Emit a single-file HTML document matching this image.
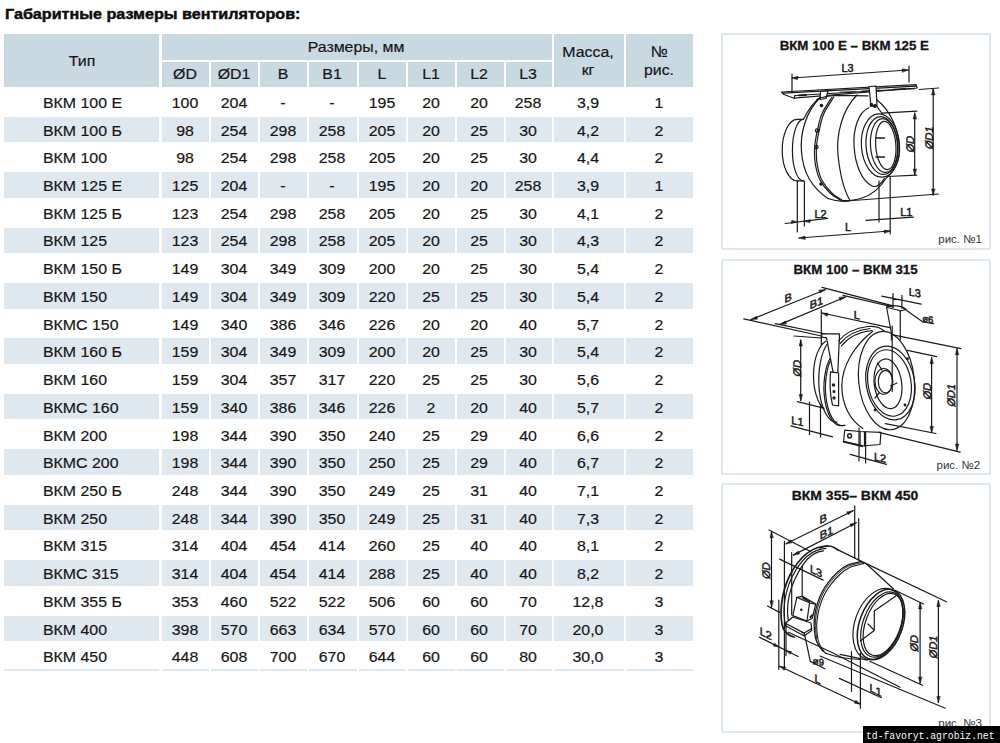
<!DOCTYPE html>
<html><head><meta charset="utf-8">
<style>
html,body{margin:0;padding:0;background:#fff;width:1000px;height:743px;overflow:hidden;position:relative}
body{font-family:"Liberation Sans",sans-serif;color:#111}
.r{position:absolute}
.t,.tl{position:absolute;font-size:15.5px;line-height:0;white-space:nowrap;color:#161616}
.t{width:120px;text-align:center;transform:scaleX(1.025)}
.tl{transform:scaleX(1.025);transform-origin:0 0}
.t,.tl{-webkit-text-stroke:0.2px #161616}
.title{position:absolute;left:4.5px;top:14px;font-size:15px;font-weight:bold;line-height:0;white-space:nowrap;color:#0d0d0d;transform:scaleX(1.075);transform-origin:0 0;-webkit-text-stroke:0.45px #0d0d0d}
.panel{position:absolute;border:2px solid #dfe8f0;box-sizing:border-box}
.ptitle{position:absolute;font-weight:bold;font-size:13.3px;line-height:0;white-space:nowrap;text-align:center;color:#141414;-webkit-text-stroke:0.3px #141414}
.ris{position:absolute;font-size:11.5px;line-height:0;white-space:nowrap;color:#333}
.wm{position:absolute;left:863px;top:726.4px;width:137px;height:17px;background:#000;color:#fff;font-family:"Liberation Mono",monospace;font-size:11px;line-height:17px;white-space:nowrap}
.wm span{position:absolute;left:3.2px;top:1.6px;transform:scaleX(0.885);transform-origin:0 0}
svg{position:absolute;left:0;top:0}
</style></head><body>
<div class="title">Габаритные размеры вентиляторов:</div>
<div class="r" style="left:4px;top:33.5px;width:155.20px;height:53.50px;background:#c9d9e2"></div>
<div class="r" style="left:161.5px;top:33.5px;width:390.50px;height:26.00px;background:#c9d9e2"></div>
<div class="r" style="left:161.5px;top:61.7px;width:47.50px;height:25.30px;background:#c9d9e2"></div>
<div class="r" style="left:211px;top:61.7px;width:47.00px;height:25.30px;background:#c9d9e2"></div>
<div class="r" style="left:260px;top:61.7px;width:47.00px;height:25.30px;background:#c9d9e2"></div>
<div class="r" style="left:309px;top:61.7px;width:48.00px;height:25.30px;background:#c9d9e2"></div>
<div class="r" style="left:359px;top:61.7px;width:47.00px;height:25.30px;background:#c9d9e2"></div>
<div class="r" style="left:408px;top:61.7px;width:47.00px;height:25.30px;background:#c9d9e2"></div>
<div class="r" style="left:457px;top:61.7px;width:46.60px;height:25.30px;background:#c9d9e2"></div>
<div class="r" style="left:505.6px;top:61.7px;width:46.40px;height:25.30px;background:#c9d9e2"></div>
<div class="r" style="left:554.4px;top:33.5px;width:69.60px;height:53.50px;background:#c9d9e2"></div>
<div class="r" style="left:626px;top:33.5px;width:67.30px;height:53.50px;background:#c9d9e2"></div>
<div class="t" style="left:21.70px;top:61.13px">Тип</div>
<div class="t" style="left:295.50px;top:47.43px">Размеры, мм</div>
<div class="t" style="left:125.45px;top:74.13px">ØD</div>
<div class="t" style="left:173.50px;top:74.13px">ØD1</div>
<div class="t" style="left:222.50px;top:74.13px">B</div>
<div class="t" style="left:272.00px;top:74.13px">B1</div>
<div class="t" style="left:321.50px;top:74.13px">L</div>
<div class="t" style="left:370.50px;top:74.13px">L1</div>
<div class="t" style="left:419.30px;top:74.13px">L2</div>
<div class="t" style="left:467.80px;top:74.13px">L3</div>
<div class="t" style="left:528.20px;top:52.13px">Масса,</div>
<div class="t" style="left:528.20px;top:70.23px">кг</div>
<div class="t" style="left:598.65px;top:52.13px">№</div>
<div class="t" style="left:598.65px;top:70.23px">рис.</div>
<div class="tl" style="left:42.9px;top:102.88px">ВКМ 100 Е</div>
<div class="t" style="left:125.45px;top:102.88px">100</div>
<div class="t" style="left:173.50px;top:102.88px">204</div>
<div class="t" style="left:222.50px;top:102.88px">-</div>
<div class="t" style="left:272.00px;top:102.88px">-</div>
<div class="t" style="left:321.50px;top:102.88px">195</div>
<div class="t" style="left:370.50px;top:102.88px">20</div>
<div class="t" style="left:419.30px;top:102.88px">20</div>
<div class="t" style="left:467.80px;top:102.88px">258</div>
<div class="t" style="left:528.20px;top:102.88px">3,9</div>
<div class="t" style="left:598.65px;top:102.88px">1</div>
<div class="r" style="left:4px;top:116.7px;width:155.20px;height:25.60px;background:#e0e8ef"></div>
<div class="r" style="left:161.5px;top:116.7px;width:47.50px;height:25.60px;background:#e0e8ef"></div>
<div class="r" style="left:211px;top:116.7px;width:47.00px;height:25.60px;background:#e0e8ef"></div>
<div class="r" style="left:260px;top:116.7px;width:47.00px;height:25.60px;background:#e0e8ef"></div>
<div class="r" style="left:309px;top:116.7px;width:48.00px;height:25.60px;background:#e0e8ef"></div>
<div class="r" style="left:359px;top:116.7px;width:47.00px;height:25.60px;background:#e0e8ef"></div>
<div class="r" style="left:408px;top:116.7px;width:47.00px;height:25.60px;background:#e0e8ef"></div>
<div class="r" style="left:457px;top:116.7px;width:46.60px;height:25.60px;background:#e0e8ef"></div>
<div class="r" style="left:505.6px;top:116.7px;width:46.40px;height:25.60px;background:#e0e8ef"></div>
<div class="r" style="left:554.4px;top:116.7px;width:69.60px;height:25.60px;background:#e0e8ef"></div>
<div class="r" style="left:626px;top:116.7px;width:67.30px;height:25.60px;background:#e0e8ef"></div>
<div class="tl" style="left:42.9px;top:130.60px">ВКМ 100 Б</div>
<div class="t" style="left:125.45px;top:130.60px">98</div>
<div class="t" style="left:173.50px;top:130.60px">254</div>
<div class="t" style="left:222.50px;top:130.60px">298</div>
<div class="t" style="left:272.00px;top:130.60px">258</div>
<div class="t" style="left:321.50px;top:130.60px">205</div>
<div class="t" style="left:370.50px;top:130.60px">20</div>
<div class="t" style="left:419.30px;top:130.60px">25</div>
<div class="t" style="left:467.80px;top:130.60px">30</div>
<div class="t" style="left:528.20px;top:130.60px">4,2</div>
<div class="t" style="left:598.65px;top:130.60px">2</div>
<div class="tl" style="left:42.9px;top:158.32px">ВКМ 100</div>
<div class="t" style="left:125.45px;top:158.32px">98</div>
<div class="t" style="left:173.50px;top:158.32px">254</div>
<div class="t" style="left:222.50px;top:158.32px">298</div>
<div class="t" style="left:272.00px;top:158.32px">258</div>
<div class="t" style="left:321.50px;top:158.32px">205</div>
<div class="t" style="left:370.50px;top:158.32px">20</div>
<div class="t" style="left:419.30px;top:158.32px">25</div>
<div class="t" style="left:467.80px;top:158.32px">30</div>
<div class="t" style="left:528.20px;top:158.32px">4,4</div>
<div class="t" style="left:598.65px;top:158.32px">2</div>
<div class="r" style="left:4px;top:172.14px;width:155.20px;height:25.60px;background:#e0e8ef"></div>
<div class="r" style="left:161.5px;top:172.14px;width:47.50px;height:25.60px;background:#e0e8ef"></div>
<div class="r" style="left:211px;top:172.14px;width:47.00px;height:25.60px;background:#e0e8ef"></div>
<div class="r" style="left:260px;top:172.14px;width:47.00px;height:25.60px;background:#e0e8ef"></div>
<div class="r" style="left:309px;top:172.14px;width:48.00px;height:25.60px;background:#e0e8ef"></div>
<div class="r" style="left:359px;top:172.14px;width:47.00px;height:25.60px;background:#e0e8ef"></div>
<div class="r" style="left:408px;top:172.14px;width:47.00px;height:25.60px;background:#e0e8ef"></div>
<div class="r" style="left:457px;top:172.14px;width:46.60px;height:25.60px;background:#e0e8ef"></div>
<div class="r" style="left:505.6px;top:172.14px;width:46.40px;height:25.60px;background:#e0e8ef"></div>
<div class="r" style="left:554.4px;top:172.14px;width:69.60px;height:25.60px;background:#e0e8ef"></div>
<div class="r" style="left:626px;top:172.14px;width:67.30px;height:25.60px;background:#e0e8ef"></div>
<div class="tl" style="left:42.9px;top:186.04px">ВКМ 125 Е</div>
<div class="t" style="left:125.45px;top:186.04px">125</div>
<div class="t" style="left:173.50px;top:186.04px">204</div>
<div class="t" style="left:222.50px;top:186.04px">-</div>
<div class="t" style="left:272.00px;top:186.04px">-</div>
<div class="t" style="left:321.50px;top:186.04px">195</div>
<div class="t" style="left:370.50px;top:186.04px">20</div>
<div class="t" style="left:419.30px;top:186.04px">20</div>
<div class="t" style="left:467.80px;top:186.04px">258</div>
<div class="t" style="left:528.20px;top:186.04px">3,9</div>
<div class="t" style="left:598.65px;top:186.04px">1</div>
<div class="tl" style="left:42.9px;top:213.76px">ВКМ 125 Б</div>
<div class="t" style="left:125.45px;top:213.76px">123</div>
<div class="t" style="left:173.50px;top:213.76px">254</div>
<div class="t" style="left:222.50px;top:213.76px">298</div>
<div class="t" style="left:272.00px;top:213.76px">258</div>
<div class="t" style="left:321.50px;top:213.76px">205</div>
<div class="t" style="left:370.50px;top:213.76px">20</div>
<div class="t" style="left:419.30px;top:213.76px">25</div>
<div class="t" style="left:467.80px;top:213.76px">30</div>
<div class="t" style="left:528.20px;top:213.76px">4,1</div>
<div class="t" style="left:598.65px;top:213.76px">2</div>
<div class="r" style="left:4px;top:227.57999999999998px;width:155.20px;height:25.60px;background:#e0e8ef"></div>
<div class="r" style="left:161.5px;top:227.57999999999998px;width:47.50px;height:25.60px;background:#e0e8ef"></div>
<div class="r" style="left:211px;top:227.57999999999998px;width:47.00px;height:25.60px;background:#e0e8ef"></div>
<div class="r" style="left:260px;top:227.57999999999998px;width:47.00px;height:25.60px;background:#e0e8ef"></div>
<div class="r" style="left:309px;top:227.57999999999998px;width:48.00px;height:25.60px;background:#e0e8ef"></div>
<div class="r" style="left:359px;top:227.57999999999998px;width:47.00px;height:25.60px;background:#e0e8ef"></div>
<div class="r" style="left:408px;top:227.57999999999998px;width:47.00px;height:25.60px;background:#e0e8ef"></div>
<div class="r" style="left:457px;top:227.57999999999998px;width:46.60px;height:25.60px;background:#e0e8ef"></div>
<div class="r" style="left:505.6px;top:227.57999999999998px;width:46.40px;height:25.60px;background:#e0e8ef"></div>
<div class="r" style="left:554.4px;top:227.57999999999998px;width:69.60px;height:25.60px;background:#e0e8ef"></div>
<div class="r" style="left:626px;top:227.57999999999998px;width:67.30px;height:25.60px;background:#e0e8ef"></div>
<div class="tl" style="left:42.9px;top:241.48px">ВКМ 125</div>
<div class="t" style="left:125.45px;top:241.48px">123</div>
<div class="t" style="left:173.50px;top:241.48px">254</div>
<div class="t" style="left:222.50px;top:241.48px">298</div>
<div class="t" style="left:272.00px;top:241.48px">258</div>
<div class="t" style="left:321.50px;top:241.48px">205</div>
<div class="t" style="left:370.50px;top:241.48px">20</div>
<div class="t" style="left:419.30px;top:241.48px">25</div>
<div class="t" style="left:467.80px;top:241.48px">30</div>
<div class="t" style="left:528.20px;top:241.48px">4,3</div>
<div class="t" style="left:598.65px;top:241.48px">2</div>
<div class="tl" style="left:42.9px;top:269.20px">ВКМ 150 Б</div>
<div class="t" style="left:125.45px;top:269.20px">149</div>
<div class="t" style="left:173.50px;top:269.20px">304</div>
<div class="t" style="left:222.50px;top:269.20px">349</div>
<div class="t" style="left:272.00px;top:269.20px">309</div>
<div class="t" style="left:321.50px;top:269.20px">200</div>
<div class="t" style="left:370.50px;top:269.20px">20</div>
<div class="t" style="left:419.30px;top:269.20px">25</div>
<div class="t" style="left:467.80px;top:269.20px">30</div>
<div class="t" style="left:528.20px;top:269.20px">5,4</div>
<div class="t" style="left:598.65px;top:269.20px">2</div>
<div class="r" style="left:4px;top:283.02px;width:155.20px;height:25.60px;background:#e0e8ef"></div>
<div class="r" style="left:161.5px;top:283.02px;width:47.50px;height:25.60px;background:#e0e8ef"></div>
<div class="r" style="left:211px;top:283.02px;width:47.00px;height:25.60px;background:#e0e8ef"></div>
<div class="r" style="left:260px;top:283.02px;width:47.00px;height:25.60px;background:#e0e8ef"></div>
<div class="r" style="left:309px;top:283.02px;width:48.00px;height:25.60px;background:#e0e8ef"></div>
<div class="r" style="left:359px;top:283.02px;width:47.00px;height:25.60px;background:#e0e8ef"></div>
<div class="r" style="left:408px;top:283.02px;width:47.00px;height:25.60px;background:#e0e8ef"></div>
<div class="r" style="left:457px;top:283.02px;width:46.60px;height:25.60px;background:#e0e8ef"></div>
<div class="r" style="left:505.6px;top:283.02px;width:46.40px;height:25.60px;background:#e0e8ef"></div>
<div class="r" style="left:554.4px;top:283.02px;width:69.60px;height:25.60px;background:#e0e8ef"></div>
<div class="r" style="left:626px;top:283.02px;width:67.30px;height:25.60px;background:#e0e8ef"></div>
<div class="tl" style="left:42.9px;top:296.92px">ВКМ 150</div>
<div class="t" style="left:125.45px;top:296.92px">149</div>
<div class="t" style="left:173.50px;top:296.92px">304</div>
<div class="t" style="left:222.50px;top:296.92px">349</div>
<div class="t" style="left:272.00px;top:296.92px">309</div>
<div class="t" style="left:321.50px;top:296.92px">220</div>
<div class="t" style="left:370.50px;top:296.92px">25</div>
<div class="t" style="left:419.30px;top:296.92px">25</div>
<div class="t" style="left:467.80px;top:296.92px">30</div>
<div class="t" style="left:528.20px;top:296.92px">5,4</div>
<div class="t" style="left:598.65px;top:296.92px">2</div>
<div class="tl" style="left:42.9px;top:324.64px">ВКМС 150</div>
<div class="t" style="left:125.45px;top:324.64px">149</div>
<div class="t" style="left:173.50px;top:324.64px">340</div>
<div class="t" style="left:222.50px;top:324.64px">386</div>
<div class="t" style="left:272.00px;top:324.64px">346</div>
<div class="t" style="left:321.50px;top:324.64px">226</div>
<div class="t" style="left:370.50px;top:324.64px">20</div>
<div class="t" style="left:419.30px;top:324.64px">20</div>
<div class="t" style="left:467.80px;top:324.64px">40</div>
<div class="t" style="left:528.20px;top:324.64px">5,7</div>
<div class="t" style="left:598.65px;top:324.64px">2</div>
<div class="r" style="left:4px;top:338.46px;width:155.20px;height:25.60px;background:#e0e8ef"></div>
<div class="r" style="left:161.5px;top:338.46px;width:47.50px;height:25.60px;background:#e0e8ef"></div>
<div class="r" style="left:211px;top:338.46px;width:47.00px;height:25.60px;background:#e0e8ef"></div>
<div class="r" style="left:260px;top:338.46px;width:47.00px;height:25.60px;background:#e0e8ef"></div>
<div class="r" style="left:309px;top:338.46px;width:48.00px;height:25.60px;background:#e0e8ef"></div>
<div class="r" style="left:359px;top:338.46px;width:47.00px;height:25.60px;background:#e0e8ef"></div>
<div class="r" style="left:408px;top:338.46px;width:47.00px;height:25.60px;background:#e0e8ef"></div>
<div class="r" style="left:457px;top:338.46px;width:46.60px;height:25.60px;background:#e0e8ef"></div>
<div class="r" style="left:505.6px;top:338.46px;width:46.40px;height:25.60px;background:#e0e8ef"></div>
<div class="r" style="left:554.4px;top:338.46px;width:69.60px;height:25.60px;background:#e0e8ef"></div>
<div class="r" style="left:626px;top:338.46px;width:67.30px;height:25.60px;background:#e0e8ef"></div>
<div class="tl" style="left:42.9px;top:352.36px">ВКМ 160 Б</div>
<div class="t" style="left:125.45px;top:352.36px">159</div>
<div class="t" style="left:173.50px;top:352.36px">304</div>
<div class="t" style="left:222.50px;top:352.36px">349</div>
<div class="t" style="left:272.00px;top:352.36px">309</div>
<div class="t" style="left:321.50px;top:352.36px">200</div>
<div class="t" style="left:370.50px;top:352.36px">20</div>
<div class="t" style="left:419.30px;top:352.36px">25</div>
<div class="t" style="left:467.80px;top:352.36px">30</div>
<div class="t" style="left:528.20px;top:352.36px">5,4</div>
<div class="t" style="left:598.65px;top:352.36px">2</div>
<div class="tl" style="left:42.9px;top:380.08px">ВКМ 160</div>
<div class="t" style="left:125.45px;top:380.08px">159</div>
<div class="t" style="left:173.50px;top:380.08px">304</div>
<div class="t" style="left:222.50px;top:380.08px">357</div>
<div class="t" style="left:272.00px;top:380.08px">317</div>
<div class="t" style="left:321.50px;top:380.08px">220</div>
<div class="t" style="left:370.50px;top:380.08px">25</div>
<div class="t" style="left:419.30px;top:380.08px">25</div>
<div class="t" style="left:467.80px;top:380.08px">30</div>
<div class="t" style="left:528.20px;top:380.08px">5,6</div>
<div class="t" style="left:598.65px;top:380.08px">2</div>
<div class="r" style="left:4px;top:393.9px;width:155.20px;height:25.60px;background:#e0e8ef"></div>
<div class="r" style="left:161.5px;top:393.9px;width:47.50px;height:25.60px;background:#e0e8ef"></div>
<div class="r" style="left:211px;top:393.9px;width:47.00px;height:25.60px;background:#e0e8ef"></div>
<div class="r" style="left:260px;top:393.9px;width:47.00px;height:25.60px;background:#e0e8ef"></div>
<div class="r" style="left:309px;top:393.9px;width:48.00px;height:25.60px;background:#e0e8ef"></div>
<div class="r" style="left:359px;top:393.9px;width:47.00px;height:25.60px;background:#e0e8ef"></div>
<div class="r" style="left:408px;top:393.9px;width:47.00px;height:25.60px;background:#e0e8ef"></div>
<div class="r" style="left:457px;top:393.9px;width:46.60px;height:25.60px;background:#e0e8ef"></div>
<div class="r" style="left:505.6px;top:393.9px;width:46.40px;height:25.60px;background:#e0e8ef"></div>
<div class="r" style="left:554.4px;top:393.9px;width:69.60px;height:25.60px;background:#e0e8ef"></div>
<div class="r" style="left:626px;top:393.9px;width:67.30px;height:25.60px;background:#e0e8ef"></div>
<div class="tl" style="left:42.9px;top:407.80px">ВКМС 160</div>
<div class="t" style="left:125.45px;top:407.80px">159</div>
<div class="t" style="left:173.50px;top:407.80px">340</div>
<div class="t" style="left:222.50px;top:407.80px">386</div>
<div class="t" style="left:272.00px;top:407.80px">346</div>
<div class="t" style="left:321.50px;top:407.80px">226</div>
<div class="t" style="left:370.50px;top:407.80px">2</div>
<div class="t" style="left:419.30px;top:407.80px">20</div>
<div class="t" style="left:467.80px;top:407.80px">40</div>
<div class="t" style="left:528.20px;top:407.80px">5,7</div>
<div class="t" style="left:598.65px;top:407.80px">2</div>
<div class="tl" style="left:42.9px;top:435.52px">ВКМ 200</div>
<div class="t" style="left:125.45px;top:435.52px">198</div>
<div class="t" style="left:173.50px;top:435.52px">344</div>
<div class="t" style="left:222.50px;top:435.52px">390</div>
<div class="t" style="left:272.00px;top:435.52px">350</div>
<div class="t" style="left:321.50px;top:435.52px">240</div>
<div class="t" style="left:370.50px;top:435.52px">25</div>
<div class="t" style="left:419.30px;top:435.52px">29</div>
<div class="t" style="left:467.80px;top:435.52px">40</div>
<div class="t" style="left:528.20px;top:435.52px">6,6</div>
<div class="t" style="left:598.65px;top:435.52px">2</div>
<div class="r" style="left:4px;top:449.34000000000003px;width:155.20px;height:25.60px;background:#e0e8ef"></div>
<div class="r" style="left:161.5px;top:449.34000000000003px;width:47.50px;height:25.60px;background:#e0e8ef"></div>
<div class="r" style="left:211px;top:449.34000000000003px;width:47.00px;height:25.60px;background:#e0e8ef"></div>
<div class="r" style="left:260px;top:449.34000000000003px;width:47.00px;height:25.60px;background:#e0e8ef"></div>
<div class="r" style="left:309px;top:449.34000000000003px;width:48.00px;height:25.60px;background:#e0e8ef"></div>
<div class="r" style="left:359px;top:449.34000000000003px;width:47.00px;height:25.60px;background:#e0e8ef"></div>
<div class="r" style="left:408px;top:449.34000000000003px;width:47.00px;height:25.60px;background:#e0e8ef"></div>
<div class="r" style="left:457px;top:449.34000000000003px;width:46.60px;height:25.60px;background:#e0e8ef"></div>
<div class="r" style="left:505.6px;top:449.34000000000003px;width:46.40px;height:25.60px;background:#e0e8ef"></div>
<div class="r" style="left:554.4px;top:449.34000000000003px;width:69.60px;height:25.60px;background:#e0e8ef"></div>
<div class="r" style="left:626px;top:449.34000000000003px;width:67.30px;height:25.60px;background:#e0e8ef"></div>
<div class="tl" style="left:42.9px;top:463.24px">ВКМС 200</div>
<div class="t" style="left:125.45px;top:463.24px">198</div>
<div class="t" style="left:173.50px;top:463.24px">344</div>
<div class="t" style="left:222.50px;top:463.24px">390</div>
<div class="t" style="left:272.00px;top:463.24px">350</div>
<div class="t" style="left:321.50px;top:463.24px">250</div>
<div class="t" style="left:370.50px;top:463.24px">25</div>
<div class="t" style="left:419.30px;top:463.24px">29</div>
<div class="t" style="left:467.80px;top:463.24px">40</div>
<div class="t" style="left:528.20px;top:463.24px">6,7</div>
<div class="t" style="left:598.65px;top:463.24px">2</div>
<div class="tl" style="left:42.9px;top:490.96px">ВКМ 250 Б</div>
<div class="t" style="left:125.45px;top:490.96px">248</div>
<div class="t" style="left:173.50px;top:490.96px">344</div>
<div class="t" style="left:222.50px;top:490.96px">390</div>
<div class="t" style="left:272.00px;top:490.96px">350</div>
<div class="t" style="left:321.50px;top:490.96px">249</div>
<div class="t" style="left:370.50px;top:490.96px">25</div>
<div class="t" style="left:419.30px;top:490.96px">31</div>
<div class="t" style="left:467.80px;top:490.96px">40</div>
<div class="t" style="left:528.20px;top:490.96px">7,1</div>
<div class="t" style="left:598.65px;top:490.96px">2</div>
<div class="r" style="left:4px;top:504.78px;width:155.20px;height:25.60px;background:#e0e8ef"></div>
<div class="r" style="left:161.5px;top:504.78px;width:47.50px;height:25.60px;background:#e0e8ef"></div>
<div class="r" style="left:211px;top:504.78px;width:47.00px;height:25.60px;background:#e0e8ef"></div>
<div class="r" style="left:260px;top:504.78px;width:47.00px;height:25.60px;background:#e0e8ef"></div>
<div class="r" style="left:309px;top:504.78px;width:48.00px;height:25.60px;background:#e0e8ef"></div>
<div class="r" style="left:359px;top:504.78px;width:47.00px;height:25.60px;background:#e0e8ef"></div>
<div class="r" style="left:408px;top:504.78px;width:47.00px;height:25.60px;background:#e0e8ef"></div>
<div class="r" style="left:457px;top:504.78px;width:46.60px;height:25.60px;background:#e0e8ef"></div>
<div class="r" style="left:505.6px;top:504.78px;width:46.40px;height:25.60px;background:#e0e8ef"></div>
<div class="r" style="left:554.4px;top:504.78px;width:69.60px;height:25.60px;background:#e0e8ef"></div>
<div class="r" style="left:626px;top:504.78px;width:67.30px;height:25.60px;background:#e0e8ef"></div>
<div class="tl" style="left:42.9px;top:518.68px">ВКМ 250</div>
<div class="t" style="left:125.45px;top:518.68px">248</div>
<div class="t" style="left:173.50px;top:518.68px">344</div>
<div class="t" style="left:222.50px;top:518.68px">390</div>
<div class="t" style="left:272.00px;top:518.68px">350</div>
<div class="t" style="left:321.50px;top:518.68px">249</div>
<div class="t" style="left:370.50px;top:518.68px">25</div>
<div class="t" style="left:419.30px;top:518.68px">31</div>
<div class="t" style="left:467.80px;top:518.68px">40</div>
<div class="t" style="left:528.20px;top:518.68px">7,3</div>
<div class="t" style="left:598.65px;top:518.68px">2</div>
<div class="tl" style="left:42.9px;top:546.40px">ВКМ 315</div>
<div class="t" style="left:125.45px;top:546.40px">314</div>
<div class="t" style="left:173.50px;top:546.40px">404</div>
<div class="t" style="left:222.50px;top:546.40px">454</div>
<div class="t" style="left:272.00px;top:546.40px">414</div>
<div class="t" style="left:321.50px;top:546.40px">260</div>
<div class="t" style="left:370.50px;top:546.40px">25</div>
<div class="t" style="left:419.30px;top:546.40px">40</div>
<div class="t" style="left:467.80px;top:546.40px">40</div>
<div class="t" style="left:528.20px;top:546.40px">8,1</div>
<div class="t" style="left:598.65px;top:546.40px">2</div>
<div class="r" style="left:4px;top:560.22px;width:155.20px;height:25.60px;background:#e0e8ef"></div>
<div class="r" style="left:161.5px;top:560.22px;width:47.50px;height:25.60px;background:#e0e8ef"></div>
<div class="r" style="left:211px;top:560.22px;width:47.00px;height:25.60px;background:#e0e8ef"></div>
<div class="r" style="left:260px;top:560.22px;width:47.00px;height:25.60px;background:#e0e8ef"></div>
<div class="r" style="left:309px;top:560.22px;width:48.00px;height:25.60px;background:#e0e8ef"></div>
<div class="r" style="left:359px;top:560.22px;width:47.00px;height:25.60px;background:#e0e8ef"></div>
<div class="r" style="left:408px;top:560.22px;width:47.00px;height:25.60px;background:#e0e8ef"></div>
<div class="r" style="left:457px;top:560.22px;width:46.60px;height:25.60px;background:#e0e8ef"></div>
<div class="r" style="left:505.6px;top:560.22px;width:46.40px;height:25.60px;background:#e0e8ef"></div>
<div class="r" style="left:554.4px;top:560.22px;width:69.60px;height:25.60px;background:#e0e8ef"></div>
<div class="r" style="left:626px;top:560.22px;width:67.30px;height:25.60px;background:#e0e8ef"></div>
<div class="tl" style="left:42.9px;top:574.12px">ВКМС 315</div>
<div class="t" style="left:125.45px;top:574.12px">314</div>
<div class="t" style="left:173.50px;top:574.12px">404</div>
<div class="t" style="left:222.50px;top:574.12px">454</div>
<div class="t" style="left:272.00px;top:574.12px">414</div>
<div class="t" style="left:321.50px;top:574.12px">288</div>
<div class="t" style="left:370.50px;top:574.12px">25</div>
<div class="t" style="left:419.30px;top:574.12px">40</div>
<div class="t" style="left:467.80px;top:574.12px">40</div>
<div class="t" style="left:528.20px;top:574.12px">8,2</div>
<div class="t" style="left:598.65px;top:574.12px">2</div>
<div class="tl" style="left:42.9px;top:601.84px">ВКМ 355 Б</div>
<div class="t" style="left:125.45px;top:601.84px">353</div>
<div class="t" style="left:173.50px;top:601.84px">460</div>
<div class="t" style="left:222.50px;top:601.84px">522</div>
<div class="t" style="left:272.00px;top:601.84px">522</div>
<div class="t" style="left:321.50px;top:601.84px">506</div>
<div class="t" style="left:370.50px;top:601.84px">60</div>
<div class="t" style="left:419.30px;top:601.84px">60</div>
<div class="t" style="left:467.80px;top:601.84px">70</div>
<div class="t" style="left:528.20px;top:601.84px">12,8</div>
<div class="t" style="left:598.65px;top:601.84px">3</div>
<div class="r" style="left:4px;top:615.66px;width:155.20px;height:25.60px;background:#e0e8ef"></div>
<div class="r" style="left:161.5px;top:615.66px;width:47.50px;height:25.60px;background:#e0e8ef"></div>
<div class="r" style="left:211px;top:615.66px;width:47.00px;height:25.60px;background:#e0e8ef"></div>
<div class="r" style="left:260px;top:615.66px;width:47.00px;height:25.60px;background:#e0e8ef"></div>
<div class="r" style="left:309px;top:615.66px;width:48.00px;height:25.60px;background:#e0e8ef"></div>
<div class="r" style="left:359px;top:615.66px;width:47.00px;height:25.60px;background:#e0e8ef"></div>
<div class="r" style="left:408px;top:615.66px;width:47.00px;height:25.60px;background:#e0e8ef"></div>
<div class="r" style="left:457px;top:615.66px;width:46.60px;height:25.60px;background:#e0e8ef"></div>
<div class="r" style="left:505.6px;top:615.66px;width:46.40px;height:25.60px;background:#e0e8ef"></div>
<div class="r" style="left:554.4px;top:615.66px;width:69.60px;height:25.60px;background:#e0e8ef"></div>
<div class="r" style="left:626px;top:615.66px;width:67.30px;height:25.60px;background:#e0e8ef"></div>
<div class="tl" style="left:42.9px;top:629.56px">ВКМ 400</div>
<div class="t" style="left:125.45px;top:629.56px">398</div>
<div class="t" style="left:173.50px;top:629.56px">570</div>
<div class="t" style="left:222.50px;top:629.56px">663</div>
<div class="t" style="left:272.00px;top:629.56px">634</div>
<div class="t" style="left:321.50px;top:629.56px">570</div>
<div class="t" style="left:370.50px;top:629.56px">60</div>
<div class="t" style="left:419.30px;top:629.56px">60</div>
<div class="t" style="left:467.80px;top:629.56px">70</div>
<div class="t" style="left:528.20px;top:629.56px">20,0</div>
<div class="t" style="left:598.65px;top:629.56px">3</div>
<div class="tl" style="left:42.9px;top:657.28px">ВКМ 450</div>
<div class="t" style="left:125.45px;top:657.28px">448</div>
<div class="t" style="left:173.50px;top:657.28px">608</div>
<div class="t" style="left:222.50px;top:657.28px">700</div>
<div class="t" style="left:272.00px;top:657.28px">670</div>
<div class="t" style="left:321.50px;top:657.28px">644</div>
<div class="t" style="left:370.50px;top:657.28px">60</div>
<div class="t" style="left:419.30px;top:657.28px">60</div>
<div class="t" style="left:467.80px;top:657.28px">80</div>
<div class="t" style="left:528.20px;top:657.28px">30,0</div>
<div class="t" style="left:598.65px;top:657.28px">3</div>
<div class="r" style="left:4px;top:669.4px;width:155.20px;height:1.90px;background:#e0e8ef"></div>
<div class="r" style="left:161.5px;top:669.4px;width:47.50px;height:1.90px;background:#e0e8ef"></div>
<div class="r" style="left:211px;top:669.4px;width:47.00px;height:1.90px;background:#e0e8ef"></div>
<div class="r" style="left:260px;top:669.4px;width:47.00px;height:1.90px;background:#e0e8ef"></div>
<div class="r" style="left:309px;top:669.4px;width:48.00px;height:1.90px;background:#e0e8ef"></div>
<div class="r" style="left:359px;top:669.4px;width:47.00px;height:1.90px;background:#e0e8ef"></div>
<div class="r" style="left:408px;top:669.4px;width:47.00px;height:1.90px;background:#e0e8ef"></div>
<div class="r" style="left:457px;top:669.4px;width:46.60px;height:1.90px;background:#e0e8ef"></div>
<div class="r" style="left:505.6px;top:669.4px;width:46.40px;height:1.90px;background:#e0e8ef"></div>
<div class="r" style="left:554.4px;top:669.4px;width:69.60px;height:1.90px;background:#e0e8ef"></div>
<div class="r" style="left:626px;top:669.4px;width:67.30px;height:1.90px;background:#e0e8ef"></div>
<div class="panel" style="left:721px;top:33px;width:270px;height:217px"></div>
<div class="panel" style="left:721px;top:259px;width:270px;height:215.6px"></div>
<div class="panel" style="left:721px;top:483px;width:270px;height:250px"></div>
<div class="ptitle" style="left:754.3px;width:200px;top:46.0px">ВКМ 100 Е – ВКМ 125 Е</div>
<div class="ptitle" style="left:755.6px;width:200px;top:269.5px">ВКМ 100 – ВКМ 315</div>
<div class="ptitle" style="left:754.7px;width:200px;top:496.1px;transform:scaleX(1.05)">ВКМ 355– ВКМ 450</div>
<div class="ris" style="left:938.3px;top:238.9px">рис. №1</div>
<div class="ris" style="left:936.5px;top:464.9px">рис. №2</div>
<div class="ris" style="left:938.3px;top:722.8px">рис. №3</div>
<svg width="1000" height="743" viewBox="0 0 1000 743">
<g fill="none" stroke="#1a1a1a" stroke-width="1.2" stroke-linecap="round" stroke-linejoin="round">
<!-- mounting plate -->
<path d="M781.6,92 L916,84.6 L917.2,88 L794,98.2 L784,94.5 Z" fill="#fff"/>
<path d="M783,93.2 L916.5,86.2"/>
<path d="M795,95.5 L914.5,88.6"/>
<path d="M794,98.2 L795,95.5"/>
<path d="M799,95.4 L806,95" stroke-width="1.8"/>
<path d="M840,92.2 L856,91.3" stroke-width="0.8"/>
<path d="M862,90.9 L880,90" stroke-width="0.8"/>
<path d="M893,89.4 L905,88.8" stroke-width="1.4"/>
<path d="M820.5,91.5 L828,91 L826,98.5 L820,99.5 Z" fill="#fff"/>
<path d="M869,86.5 L876,86 L877,106 L871,106.5 Z" fill="#fff"/>
<circle cx="871.5" cy="105" r="1.3" fill="#1a1a1a"/>
<circle cx="875" cy="106" r="1.3" fill="#1a1a1a"/>
<!-- L3 dim -->
<path d="M792,74 L792,92 M909,66 L909,82 M792,78 L908,70"/>
<path d="M792,78 l6,-1.8 l-0.4,3.2 z M908,70 l-6,-1.2 l0.4,3.2 z" fill="#1a1a1a" stroke-width="0.5"/>
<!-- inlet collar -->
<path d="M797.3,119.4 A15.1,30.75 0 0 0 797.3,180.9"/>
<path d="M803.4,119.4 A11,30.75 0 0 0 803.4,180.9"/>
<path d="M797.3,119.4 L803.4,119.4 M797.3,180.9 L803.4,180.9"/>
<!-- housing left silhouette -->
<path d="M803.4,119.4 C808,110 814,102 820.5,97.2"/>
<path d="M820.5,97.2 C805,112 800,135 801.5,152 C803,172 812,188 828,198.5"/>
<!-- band double arc -->
<path d="M832.0,97.0 C830.4,99.7 824.5,108.3 822.3,113.0 C820.1,117.7 819.7,120.5 818.6,125.0 C817.5,129.5 816.2,135.8 815.5,140.0 C814.8,144.2 814.5,145.8 814.5,150.0 C814.5,154.2 814.6,160.0 815.5,165.0 C816.4,170.0 817.6,175.3 820.0,180.0 C822.4,184.7 826.5,189.6 830.0,193.0 C833.5,196.4 839.2,199.2 841.0,200.5"/>
<path d="M833.8,97.0 C832.2,99.7 826.3,108.3 824.1,113.0 C821.9,117.7 821.5,120.5 820.4,125.0 C819.3,129.5 818.0,135.8 817.3,140.0 C816.6,144.2 816.3,145.8 816.3,150.0 C816.3,154.2 816.4,160.0 817.3,165.0 C818.2,170.0 819.4,175.3 821.8,180.0 C824.2,184.7 828.3,189.6 831.8,193.0 C835.3,196.4 841.0,199.2 842.8,200.5"/>
<circle cx="821.5" cy="105.5" r="1.2" fill="#1a1a1a"/>
<circle cx="817" cy="130.5" r="1.6"/>
<circle cx="816.5" cy="147" r="1.6"/>
<circle cx="821" cy="184" r="1.2" fill="#1a1a1a"/>
<!-- big body arc -->
<path d="M856.9,95 C842,110 836,135 838,155 C840,175 845,192 850,200.5"/>
<!-- top silhouette -->
<path d="M816.8,99.3 C822,97 830,95.5 837,95.3 L868,95.8"/>
<!-- right face silhouette -->
<path d="M877,100 C890,110 898,128 899.5,146 C900.5,160 894,172 886.2,178 C880,188 872,195 862,198 C855,200 848,201 843,200.5"/>
<path d="M828,198.5 C835,201 842,202 849,201"/>
<!-- face ring 1 -->
<path d="M869,107.8 C858,112 853,130 854.1,146 C855,165 862,181 872,186 C877,188 881,184 884.3,178.6"/>
<!-- ring 2 outer ellipse -->
<ellipse cx="880.4" cy="145.5" rx="19" ry="31.7" transform="rotate(-4 880.4 145.5)"/>
<ellipse cx="882" cy="145.5" rx="16" ry="29" transform="rotate(-4 882 145.5)"/>
<ellipse cx="884" cy="145.5" rx="13.5" ry="27" transform="rotate(-4 884 145.5)"/>
<ellipse cx="885.8" cy="145.5" rx="10.1" ry="24.2" transform="rotate(-4 885.8 145.5)"/>
<path d="M876,138 L884.4,138 M876,157 L884.4,157" stroke-width="1.6"/>
<path d="M877,106.5 L882,113.5"/>
<!-- ØD dim -->
<path d="M881.8,113.2 L916.8,111.2 M887.1,176.5 L916.8,175.1 M914.7,113 L914.7,175"/>
<path d="M914.7,113 l-1.6,6 l3.2,0 z M914.7,175 l-1.6,-6 l3.2,0 z" fill="#1a1a1a" stroke-width="0.5"/>
<!-- ØD1 dim -->
<path d="M919.4,89.5 L938.6,88 M846.8,201 L938.6,194 M933.2,89 L933.2,195"/>
<path d="M933.2,89 l-1.6,6 l3.2,0 z M933.2,195 l-1.6,-6 l3.2,0 z" fill="#1a1a1a" stroke-width="0.5"/>
<!-- L2 -->
<path d="M797.3,181 L797.3,232 M804.4,181 L804.4,226 M785.2,223.5 L827.6,218.3"/>
<path d="M797.3,222 l-6,1.6 l0.4,-3 z M804.4,221 l6,-1.4 l-0.4,3 z" fill="#1a1a1a" stroke-width="0.5"/>
<!-- L1 -->
<path d="M879,181 L879,222 M890.2,177 L890.2,234 M866,220.3 L913.4,217.2"/>
<!-- L -->
<path d="M799,238 L890,231"/>
<path d="M799,238 l6,-2 l0.3,3.2 z M890,231 l-6,-1 l0.3,3.2 z" fill="#1a1a1a" stroke-width="0.5"/>
</g>
<g font-family="Liberation Sans" font-size="11" fill="#1a1a1a" stroke="#1a1a1a" stroke-width="0.5">
<text x="847.6" y="71.8" text-anchor="middle">L3</text>
<text x="820.5" y="218" text-anchor="middle">L2</text>
<text x="906.3" y="216" text-anchor="middle">L1</text>
<text x="848" y="231" text-anchor="middle">L</text>
<text transform="translate(913.5,144.8) rotate(-90) skewX(-12)" text-anchor="middle">ØD</text>
<text transform="translate(932.5,138.5) rotate(-90) skewX(-12)" text-anchor="middle">ØD1</text>
</g>
<g fill="none" stroke="#1a1a1a" stroke-width="1.2" stroke-linecap="round" stroke-linejoin="round">
<!-- B extension lines -->
<path d="M743.7,318.8 L826,337"/>
<path d="M775.2,323.6 L826,334"/>
<path d="M822,287.3 L893,305.8 M843,295.3 L893,307"/>
<!-- B dim -->
<path d="M751,319.6 L825.3,289.7"/>
<path d="M780,324.4 L845.5,297"/>
<path d="M751,319.6 l5.5,-3.4 l0.9,2.8 z M825.3,289.7 l-5.5,3.4 l-0.9,-2.8 z M780,324.4 l5.5,-3.4 l0.9,2.8 z M845.5,297 l-5.5,3.4 l-0.9,-2.8 z" fill="#1a1a1a" stroke-width="0.5"/>
<!-- L dim -->
<path d="M821.3,309.9 L821.3,344.6"/>
<path d="M822,313 L889.8,327.7"/>
<path d="M822,313 l6,0.2 l-0.7,3 z" fill="#1a1a1a" stroke-width="0.5"/>
<!-- L3 -->
<path d="M881.7,296.2 L921.3,304.2 M893,293.7 L893,307.5 M901.9,295.3 L901.9,308.3"/>
<!-- right bracket -->
<path d="M886.5,307 C890,305 903,305 906,309.5 L900.3,311 L900.3,339.8 M886.5,307 L891.4,333 M891.4,333 L891.4,340"/>
<path d="M887.5,307.5 C892,309 899,310 900.3,311"/>
<!-- Ø6 leader -->
<path d="M903.5,308.3 L922.9,322 L933.4,323.6"/>
<path d="M892.2,326 L892.2,391.5"/>
<!-- ØD1 top ext -->
<path d="M893,334.9 L960.9,348.7"/>
<!-- inlet side arcs -->
<path d="M825.7,341.2 A17,36 0 0 0 824,409"/>
<path d="M828,343 A17.5,42 0 0 0 837,422"/>
<path d="M831.5,356 A17,38 0 0 0 843.5,425.2"/>
<path d="M833,356 A17,38 0 0 0 845,425.2"/>
<!-- left bracket -->
<path d="M821.7,333.9 L839.4,333.9 L839.4,337.1 L837.8,373.5 L833,371.8 L826.5,337.9 L821.7,337.1 Z" fill="#fff"/>
<path d="M830.5,371.8 L838.6,373 L838.6,405.8 L832.5,405 C830,395 829.5,385 830.5,371.8" fill="#fff"/>
<circle cx="833.5" cy="385" r="1.1" fill="#1a1a1a"/>
<circle cx="834" cy="391.5" r="0.9" fill="#1a1a1a"/>
<circle cx="834" cy="398" r="1.1" fill="#1a1a1a"/>
<!-- top band -->
<path d="M838.6,341 C845,333 855,328 868,326.5"/>
<path d="M840,343.5 C847,335 857,330 870,328.5"/>
<path d="M841.3,346 C848.5,337 858.5,332 872,330.5"/>
<!-- body main arc -->
<path d="M872.5,331.5 C855,345 842,365 841.8,386 C842,405 850,420 862.9,428.4"/>
<!-- face big ellipse -->
<ellipse cx="886.5" cy="380.6" rx="27.8" ry="49.3" transform="rotate(-6 886.5 380.6)"/>
<path d="M868,326.5 C876,326 881,328 884,331"/>
<!-- outlet rings -->
<ellipse cx="890.4" cy="383" rx="24.2" ry="37.2" transform="rotate(-10 890.4 383)"/>
<ellipse cx="889.5" cy="383" rx="21.5" ry="33.5" transform="rotate(-10 889.5 383)"/>
<ellipse cx="888" cy="383.8" rx="13.7" ry="25" transform="rotate(-8 888 383.8)"/>
<ellipse cx="883.8" cy="381.4" rx="8.9" ry="12.9"/>
<ellipse cx="885.5" cy="381.6" rx="7.2" ry="11.2"/>
<path d="M877.5,363 L882,370 M875,398 L879.5,392.5 M890.5,386 L897,383"/>
<circle cx="907.5" cy="358.7" r="0.8" fill="#1a1a1a"/>
<circle cx="905" cy="405" r="0.8" fill="#1a1a1a"/>
<circle cx="875" cy="410" r="0.8" fill="#1a1a1a"/>
<!-- foot -->
<path d="M844.7,430.2 L860,431.5 L881,432.4 L880,444.5 L862,446 L843.6,441.7 Z" fill="#fff"/>
<path d="M860.1,431.5 L860.1,445.6 M864.5,431.8 L864.5,446" />
<ellipse cx="849.6" cy="435.8" rx="1.9" ry="2.1" stroke-width="1.5"/>
<path d="M843.5,441.7 L862,446" stroke-width="1.8"/>
<!-- ØD left dim -->
<path d="M800.7,340 L800.7,400.5 M797.4,401.6 L823.8,408.2 M794,336 L821,338"/>
<path d="M800.7,340 l-1.6,6 l3.2,0 z M800.7,400.5 l-1.6,-6 l3.2,0 z" fill="#1a1a1a" stroke-width="0.5"/>
<!-- L1 -->
<path d="M809.5,402 L809.5,434.6 M820.5,404 L820.5,437 M790.8,425.8 L832.6,436.8"/>
<!-- L2 -->
<path d="M859,428 L859,461 M865.6,432 L865.6,463 M850.2,454.4 L886.5,464.3"/>
<!-- ØD right -->
<path d="M907.5,350.3 L936.6,356.7 M885.4,423.6 L936,433.5 M931.6,357.6 L931.6,432.4"/>
<path d="M931.6,357.6 l-1.6,6 l3.2,0 z M931.6,432.4 l-1.6,-6 l3.2,0 z" fill="#1a1a1a" stroke-width="0.5"/>
<!-- ØD1 right -->
<path d="M878.8,432.4 L960.2,452.2 M957,348.8 L957,450"/>
<path d="M957,348.8 l-1.6,6 l3.2,0 z M957,450 l-1.6,-6 l3.2,0 z" fill="#1a1a1a" stroke-width="0.5"/>
</g>
<g font-family="Liberation Sans" font-size="11" fill="#1a1a1a" stroke="#1a1a1a" stroke-width="0.5">
<text transform="translate(788.2,301.5) skewY(-22)" text-anchor="middle">B</text>
<text transform="translate(816.4,306.5) skewY(-22)" text-anchor="middle">B1</text>
<text transform="translate(856.7,319) skewY(12)" text-anchor="middle">L</text>
<text transform="translate(914.8,296.5) skewY(10)" text-anchor="middle">L3</text>
<text transform="translate(927.7,322.5) skewY(8)" text-anchor="middle" font-size="9.5">ø6</text>
<text transform="translate(797.4,425) skewY(12)" text-anchor="middle">L1</text>
<text transform="translate(880,461.5) skewY(12)" text-anchor="middle">L2</text>
<text transform="translate(800.5,368.9) rotate(-90) skewX(-12)" text-anchor="middle">ØD</text>
<text transform="translate(931,391.7) rotate(-90) skewX(-12)" text-anchor="middle">ØD</text>
<text transform="translate(955.2,396) rotate(-90) skewX(-12)" text-anchor="middle">ØD1</text>
</g>
<g fill="none" stroke="#1a1a1a" stroke-width="1.2" stroke-linecap="round" stroke-linejoin="round">
<!-- B / B1 dims -->
<path d="M786,543.8 L853.1,510.7 M793.3,555.1 L856.3,522.8"/>
<path d="M786,543.8 l5,-4 l1.2,2.6 z M853.1,510.7 l-5,4 l-1.2,-2.6 z M793.3,555.1 l5,-4 l1.2,2.6 z M856.3,522.8 l-5,4 l-1.2,-2.6 z" fill="#1a1a1a" stroke-width="0.5"/>
<path d="M854.7,505.8 L854.7,558.3 M858.7,518.7 L858.7,560"/>
<path d="M784.4,541.3 L784.4,669.5 M791.7,552.7 L791.7,615"/>
<!-- ØD left -->
<path d="M769,530 L811,551.8 M771.5,531.7 L771.5,606.8 M767.5,606 L779.6,612.4"/>
<path d="M771.5,531.7 l-1.6,6 l3.2,0 z M771.5,606.8 l-1.6,-6 l3.2,0 z" fill="#1a1a1a" stroke-width="0.5"/>
<!-- L3 -->
<path d="M779.6,559.1 L823.2,580.1 M802.2,566.4 L802.2,633"/>
<!-- housing back (inlet) thick arc -->
<path d="M828,546 C813,546 800,556 790,575 C781,593 779,615 783,628 C786,634 790,636 794.2,637" stroke-width="1.7"/>
<path d="M826,548.3 C812,549 801,559 792,577 C784,594 782,613 786,627"/>
<path d="M823.5,550.8 C811,552 803,562 795,579 C788,594 786,610 789,624"/>
<path d="M820,547.8 C823,546.5 826,546 828,546 C830,546 832,546.2 834,547.5 C836,548.5 837,549.5 838,549.9" stroke-width="1.7"/>
<!-- top silhouette -->
<path d="M838,549.9 L862,561.6 L946.4,601.8"/>
<!-- front edge of housing (triple arc) -->
<path d="M861.5,561.4 C859.1,562.1 851.1,563.6 847.1,565.4 C843.1,567.2 840.8,569.2 837.7,572.0 C834.6,574.8 831.0,578.8 828.3,582.3 C825.6,585.8 823.4,589.4 821.7,592.7 C820.0,596.0 819.0,598.7 817.9,602.1 C816.8,605.5 815.7,609.6 815.1,613.4 C814.5,617.2 814.0,620.9 814.1,625.0 C814.2,629.1 814.7,634.5 815.5,638.0 C816.3,641.5 817.7,643.8 819.0,646.0 C820.3,648.2 822.6,650.6 823.3,651.5" stroke-width="1.3"/>
<path d="M862.7,562.3 C860.3,563.0 852.3,564.5 848.3,566.3 C844.3,568.1 842.0,570.1 838.9,572.9 C835.8,575.7 832.2,579.7 829.5,583.2 C826.8,586.6 824.6,590.3 822.9,593.6 C821.2,596.9 820.2,599.5 819.1,603.0 C818.0,606.5 816.9,610.5 816.3,614.3 C815.7,618.1 815.2,621.8 815.3,625.9 C815.4,630.0 816.5,636.7 816.7,638.9" stroke-width="0.9"/>
<path d="M864.1,563.4 C861.7,564.1 853.7,565.6 849.7,567.4 C845.7,569.2 843.4,571.2 840.3,574.0 C837.2,576.8 833.6,580.8 830.9,584.3 C828.2,587.8 826.0,591.4 824.3,594.7 C822.6,598.0 821.6,600.7 820.5,604.1 C819.4,607.5 818.3,611.6 817.7,615.4 C817.1,619.2 816.6,622.9 816.7,627.0 C816.8,631.1 817.3,636.5 818.1,640.0 C818.9,643.5 820.3,645.8 821.6,648.0 C822.9,650.2 825.2,652.6 825.9,653.5" stroke-width="1.1"/>
<!-- cone -->
<path d="M866,563.5 L893.8,589.2"/>
<path d="M825,653 C835,657 848,659 860.5,659.5"/>
<path d="M788.5,632.3 L832,652.5 L900,687.2"/>
<path d="M840,654.4 L867.5,660.1 M820,656 L945.3,708.2"/>
<!-- outlet -->
<ellipse cx="878" cy="624" rx="23" ry="37" transform="rotate(20 878 624)" />
<ellipse cx="881" cy="624.5" rx="21.5" ry="36.5" transform="rotate(20 881 624.5)" stroke-width="1.5"/>
<ellipse cx="882" cy="624.5" rx="19" ry="34" transform="rotate(20 882 624.5)"/>
<ellipse cx="883" cy="624.5" rx="17.5" ry="32.5" transform="rotate(20 883 624.5)"/>
<path d="M897.2,594.9 L874.3,611 L874.3,630.4 L860.6,640.7 M874.3,630.4 L868,624"/>
<!-- junction box -->
<path d="M785.4,623.3 L792.8,617 L811,623 L811.6,628.4 L804.2,633.1 Z" fill="#fff"/>
<path d="M785.4,623.3 L786,626 L804.2,636 L804.2,633.1 M804.2,636 L811.6,630.5 L811.6,628.4"/>
<path d="M796.8,597.4 L802.9,596.4 L815.7,604.1 L812.3,618.3 L806.9,621 L792.8,615.6 Z" fill="#fff"/>
<path d="M796.8,597.4 L809.6,602.8 L815.7,604.1 M809.6,602.8 L806.9,621" />
<path d="M803,598 L809.6,601.5" stroke-width="1.8"/>
<path d="M810.5,617 L812.3,615.3" stroke-width="2"/>
<circle cx="801.3" cy="609.8" r="0.7" fill="#1a1a1a"/>
<!-- Ø9 leader -->
<path d="M804.6,634.7 L810.3,661.4 L824.8,668.7"/>
<!-- L -->
<path d="M778.8,600 L778.8,669.5 M779.6,666.2 L860.4,704.2 M860.4,653.3 L860.4,708.2 M851.5,651.7 L851.5,691.3"/>
<path d="M779.6,666.2 l6,1 l-1.3,2.8 z M860.4,704.2 l-6,-1 l1.3,-2.8 z" fill="#1a1a1a" stroke-width="0.5"/>
<!-- L2 -->
<path d="M759.4,637.2 L798.2,656.5 M786,624.2 L786,655.7"/>
<path d="M778.8,647 l-5.5,-1 l1.3,-2.6 z M786,650.5 l5.5,1 l-1.3,2.6 z" fill="#1a1a1a" stroke-width="0.5"/>
<!-- L1 -->
<path d="M839.4,678.4 L881.4,697.7"/>
<!-- ØD right -->
<path d="M895,590.3 L923.5,604 M869.7,661.3 L922.4,685.3 M920.1,602.9 L920.1,683"/>
<path d="M920.1,602.9 l-1.6,6 l3.2,0 z M920.1,683 l-1.6,-6 l3.2,0 z" fill="#1a1a1a" stroke-width="0.5"/>
<!-- ØD1 right -->
<path d="M938.4,600.6 L938.4,702.5"/>
<path d="M938.4,600.6 l-1.6,6 l3.2,0 z M938.4,702.5 l-1.6,-6 l3.2,0 z" fill="#1a1a1a" stroke-width="0.5"/>
</g>
<g font-family="Liberation Sans" font-size="11" fill="#1a1a1a" stroke="#1a1a1a" stroke-width="0.5">
<text transform="translate(823.2,522.5) skewY(-26)" text-anchor="middle">B</text>
<text transform="translate(826.4,536.5) skewY(-26)" text-anchor="middle">B1</text>
<text transform="translate(816,575) skewY(26)" text-anchor="middle">L3</text>
<text transform="translate(765.8,637.5) skewY(26)" text-anchor="middle">L2</text>
<text transform="translate(817.5,683) skewY(26)" text-anchor="middle">L</text>
<text transform="translate(875.5,694) skewY(26)" text-anchor="middle">L1</text>
<text transform="translate(818.4,665) skewY(10)" text-anchor="middle" font-size="9.5">ø9</text>
<text transform="translate(769.5,571.2) rotate(-90) skewX(-12)" text-anchor="middle">ØD</text>
<text transform="translate(918,644.1) rotate(-90) skewX(-12)" text-anchor="middle">ØD</text>
<text transform="translate(936.5,647.6) rotate(-90) skewX(-12)" text-anchor="middle">ØD1</text>
</g>

</svg>
<div class="wm"><span>td-favoryt.agrobiz.net</span></div>
</body></html>
